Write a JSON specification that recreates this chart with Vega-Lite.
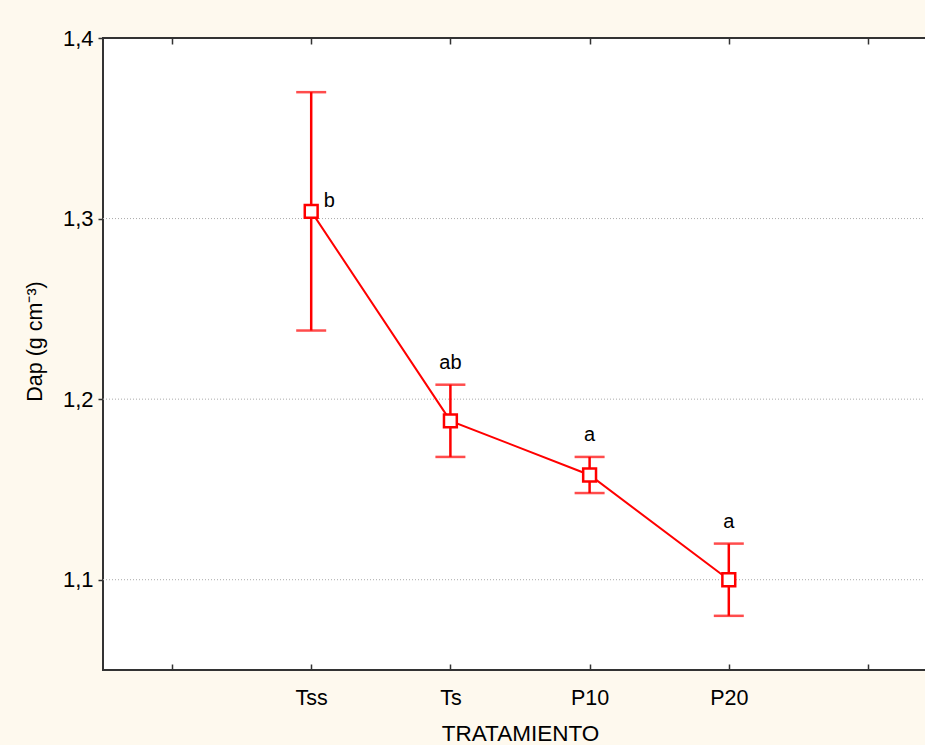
{
  "$schema": "https://vega.github.io/schema/vega-lite/v6.json",
  "autosize": {"type": "none"},
  "padding": {"left": 103, "top": 38, "right": 0, "bottom": 75},
  "width": 823,
  "height": 632,
  "background": "#fef9ee",
  "view": {"fill": "white", "stroke": "#333333", "strokeWidth": 2},
  "datasets": {
    "medias": [
      {"trat": "Tss", "mean": 1.304, "lo": 1.238, "hi": 1.370, "letra": "b"},
      {"trat": "Ts", "mean": 1.188, "lo": 1.168, "hi": 1.208, "letra": "ab"},
      {"trat": "P10", "mean": 1.158, "lo": 1.148, "hi": 1.168, "letra": "a"},
      {"trat": "P20", "mean": 1.100, "lo": 1.080, "hi": 1.120, "letra": "a"}
    ],
    "rejilla": [{"g": 1.1}, {"g": 1.2}, {"g": 1.3}]
  },
  "data": {"name": "medias"},
  "config": {
    "axisY": {
      "domain": false, "grid": false, "tickColor": "#333333", "tickSize": 5, "tickWidth": 1.5,
      "labelFont": "Liberation Sans", "labelFontSize": 22, "labelColor": "#000000", "labelPadding": 5,
      "titleFont": "Liberation Sans", "titleFontSize": 21.5, "titleFontWeight": "normal", "titleColor": "#000000", "titlePadding": 16
    }
  },
  "resolve": {"axis": {"x": "independent"}},
  "layer": [
    {
      "data": {"name": "rejilla"},
      "mark": {"type": "rule", "color": "#aaaaaa", "strokeDash": [1, 2], "strokeWidth": 1},
      "encoding": {
        "y": {"field": "g", "type": "quantitative", "title": "Dap (g cm⁻³)",
          "axis": {"values": [1.1, 1.2, 1.3, 1.4], "titleY": 303, "labelExpr": "replace(format(datum.value, '.1f'), '.', ',')"}}
      }
    },
    {
      "mark": {"type": "rule", "color": "#ff0000", "strokeWidth": 2.5},
      "encoding": {
        "x": {
          "field": "trat", "type": "ordinal",
          "scale": {"type": "point", "domain": [" ", "Tss", "Ts", "P10", "P20", "  "], "range": [69, 765], "padding": 0},
          "axis": {
            "orient": "bottom", "title": "TRATAMIENTO", "labelAngle": 0, "domain": false,
            "tickColor": "#333333", "tickWidth": 1.5, "tickSize": -6,
            "labelFont": "Liberation Sans", "labelFontSize": 21.5, "labelColor": "#000000", "labelPadding": 23,
            "titleFont": "Liberation Sans", "titleFontSize": 22.5, "titleFontWeight": "normal", "titleColor": "#000000", "titlePadding": 14,
            "grid": false
          }
        },
        "y": {
          "field": "lo", "type": "quantitative",
          "scale": {"domain": [1.05, 1.4], "nice": false, "zero": false},
          "title": "Dap (g cm⁻³)",
          "axis": {"values": [1.1, 1.2, 1.3, 1.4], "titleY": 303, "labelExpr": "replace(format(datum.value, '.1f'), '.', ',')"}
        },
        "y2": {"field": "hi"}
      }
    },
    {
      "mark": {"type": "tick", "color": "#ff0000", "size": 30, "thickness": 2.5},
      "encoding": {
        "x": {"field": "trat", "type": "ordinal", "axis": null},
        "y": {"field": "lo", "type": "quantitative", "title": "Dap (g cm⁻³)",
          "axis": {"values": [1.1, 1.2, 1.3, 1.4], "titleY": 303, "labelExpr": "replace(format(datum.value, '.1f'), '.', ',')"}}
      }
    },
    {
      "mark": {"type": "tick", "color": "#ff0000", "size": 30, "thickness": 2.5},
      "encoding": {
        "x": {"field": "trat", "type": "ordinal", "axis": null},
        "y": {"field": "hi", "type": "quantitative", "title": "Dap (g cm⁻³)",
          "axis": {"values": [1.1, 1.2, 1.3, 1.4], "titleY": 303, "labelExpr": "replace(format(datum.value, '.1f'), '.', ',')"}}
      }
    },
    {
      "mark": {"type": "line", "color": "#ff0000", "strokeWidth": 2},
      "encoding": {
        "x": {
          "field": "trat", "type": "ordinal",
          "axis": {"orient": "top", "title": null, "labels": false, "domain": false, "tickColor": "#333333", "tickWidth": 1.5, "tickSize": -6, "grid": false}
        },
        "y": {"field": "mean", "type": "quantitative", "title": "Dap (g cm⁻³)",
          "axis": {"values": [1.1, 1.2, 1.3, 1.4], "titleY": 303, "labelExpr": "replace(format(datum.value, '.1f'), '.', ',')"}},
        "order": {"value": 0}
      }
    },
    {
      "mark": {"type": "point", "shape": "square", "size": 165, "filled": false, "fill": "white", "fillOpacity": 1, "stroke": "#ff0000", "strokeWidth": 2.5, "opacity": 1},
      "encoding": {
        "x": {"field": "trat", "type": "ordinal", "axis": null},
        "y": {"field": "mean", "type": "quantitative", "title": "Dap (g cm⁻³)",
          "axis": {"values": [1.1, 1.2, 1.3, 1.4], "titleY": 303, "labelExpr": "replace(format(datum.value, '.1f'), '.', ',')"}}
      }
    },
    {
      "transform": [{"filter": "datum.trat != 'Tss'"}],
      "mark": {"type": "text", "font": "Liberation Sans", "fontSize": 20, "color": "#000000", "baseline": "middle", "dy": -22},
      "encoding": {
        "x": {"field": "trat", "type": "ordinal", "axis": null},
        "y": {"field": "hi", "type": "quantitative", "title": "Dap (g cm⁻³)",
          "axis": {"values": [1.1, 1.2, 1.3, 1.4], "titleY": 303, "labelExpr": "replace(format(datum.value, '.1f'), '.', ',')"}},
        "text": {"field": "letra"}
      }
    },
    {
      "transform": [{"filter": "datum.trat == 'Tss'"}],
      "mark": {"type": "text", "font": "Liberation Sans", "fontSize": 20, "color": "#000000", "baseline": "middle", "dx": 18, "dy": -10},
      "encoding": {
        "x": {"field": "trat", "type": "ordinal", "axis": null},
        "y": {"field": "mean", "type": "quantitative", "title": "Dap (g cm⁻³)",
          "axis": {"values": [1.1, 1.2, 1.3, 1.4], "titleY": 303, "labelExpr": "replace(format(datum.value, '.1f'), '.', ',')"}},
        "text": {"field": "letra"}
      }
    }
  ]
}
